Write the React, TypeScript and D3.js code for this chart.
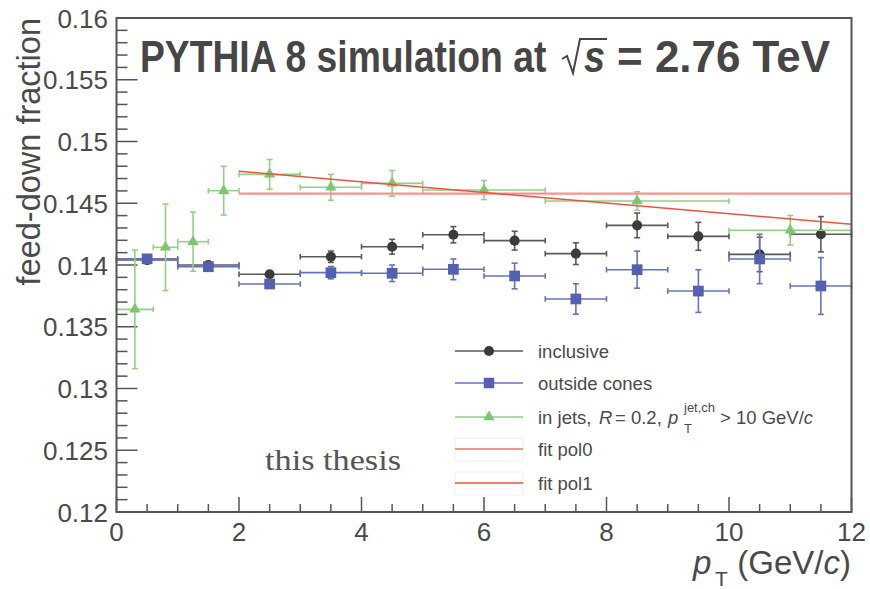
import React from "react";
import * as d3 from "d3";

const W = 870;
const H = 589;

const X_DOMAIN: [number, number] = [0, 12];
const Y_DOMAIN: [number, number] = [0.12, 0.16];
const xTickLabels = ["0", "2", "4", "6", "8", "10", "12"];
const yTickLabels = ["0.12", "0.125", "0.13", "0.135", "0.14", "0.145", "0.15", "0.155", "0.16"];

// inclusive
const incX = [0.5, 1.5, 2.5, 3.5, 4.5, 5.5, 6.5, 7.5, 8.5, 9.5, 10.5, 11.5];
const incXErr = [0.5, 0.5, 0.5, 0.5, 0.5, 0.5, 0.5, 0.5, 0.5, 0.5, 0.5, 0.5];
const incY = [0.1404, 0.14, 0.13925, 0.14067, 0.14148, 0.14245, 0.14197, 0.14092, 0.14321, 0.14232, 0.14086, 0.14249];
const incYErr = [0.0001, 0.0002, 0.0002, 0.00046, 0.0006, 0.00066, 0.00076, 0.00088, 0.001, 0.00113, 0.0014, 0.00143];

// outside cones
const outX = [0.5, 1.5, 2.5, 3.5, 4.5, 5.5, 6.5, 7.5, 8.5, 9.5, 10.5, 11.5];
const outXErr = [0.5, 0.5, 0.5, 0.5, 0.5, 0.5, 0.5, 0.5, 0.5, 0.5, 0.5, 0.5];
const outY = [0.1405, 0.13986, 0.13846, 0.13938, 0.13933, 0.13965, 0.13911, 0.13725, 0.13962, 0.13789, 0.14049, 0.1383];
const outYErr = [0.0001, 0.0001, 0.0002, 0.0005, 0.00067, 0.00084, 0.00104, 0.00123, 0.0015, 0.00173, 0.002, 0.0023];

// in jets
const jetX = [0.3, 0.8, 1.25, 1.75, 2.5, 3.5, 4.5, 6, 8.5, 11];
const jetXErr = [0.3, 0.2, 0.25, 0.25, 0.5, 0.5, 0.5, 1, 1.5, 1];
const jetY = [0.13641, 0.14143, 0.14189, 0.14602, 0.14734, 0.14629, 0.14661, 0.14607, 0.14518, 0.14281];
const jetYErr = [0.0048, 0.0035, 0.0024, 0.00197, 0.0012, 0.00105, 0.00104, 0.00077, 0.00075, 0.0012];

// fits
const fitRange = [2, 12];
const pol0Params = [0.14578];
const pol1Params = [0.14845, -0.00043];

const FONT = "'Liberation Sans', Arial, Helvetica, sans-serif";
const TEXT = "#4a4a4a";
const AXIS = "#555555";

const L = 116.5, R = 851.5, T = 18, B = 512;

const x = d3.scaleLinear().domain(X_DOMAIN).range([L, R]);
const y = d3.scaleLinear().domain(Y_DOMAIN).range([B, T]);

type SeriesProps = {
  xs: number[]; xe: number[]; ys: number[]; ye: number[];
  bar: string; fill: string; sym: d3.SymbolType; size: number; bw: number;
};

function Series({ xs, xe, ys, ye, bar, fill, sym, size, bw }: SeriesProps) {
  const path = d3.symbol().type(sym).size(size)() as string;
  return (
    <g>
      {xs.map((xv, i) => {
        const cx = x(xv), cy = y(ys[i]);
        const x0 = x(xv - xe[i]), x1 = x(xv + xe[i]);
        const y0 = y(ys[i] - ye[i]), y1 = y(ys[i] + ye[i]);
        return (
          <g key={"b" + i} stroke={bar} strokeWidth={bw} fill="none">
            <line x1={x0} x2={x1} y1={cy} y2={cy} />
            <line x1={x0} x2={x0} y1={cy - 2.8} y2={cy + 2.8} />
            <line x1={x1} x2={x1} y1={cy - 2.8} y2={cy + 2.8} />
            <line x1={cx} x2={cx} y1={y0} y2={y1} />
            <line x1={cx - 3} x2={cx + 3} y1={y0} y2={y0} />
            <line x1={cx - 3} x2={cx + 3} y1={y1} y2={y1} />
          </g>
        );
      })}
      {xs.map((xv, i) => (
        <path key={"m" + i} d={path} transform={`translate(${x(xv)},${y(ys[i])})`} fill={fill} />
      ))}
    </g>
  );
}

const INC_FILL = "#3b3b3b", INC_BAR = "#5a5a5a";
const OUT_FILL = "#5361b0", OUT_BAR = "#6573bf";
const JET_FILL = "#7ec66b", JET_BAR = "#92d183";
const POL0 = "#f4958b", POL1 = "#e7553f";

export default function App() {
  const xMajor = x.ticks(6);
  const xMinor = d3.range(0, 12.0001, 0.5);
  const yMajor = d3.range(0, 9).map((i) => 0.12 + i * 0.005);
  const yMinor = d3.range(0, 41).map((i) => 0.12 + i * 0.001);

  const pol0 = d3.line<number>().x((v) => x(v)).y(() => y(pol0Params[0]));
  const pol1 = d3.line<number>().x((v) => x(v)).y((v) => y(pol1Params[0] + pol1Params[1] * v));

  const symC = d3.symbol().type(d3.symbolCircle).size(80)() as string;
  const symS = d3.symbol().type(d3.symbolSquare).size(110)() as string;
  const symT = d3.symbol().type(d3.symbolTriangle).size(55)() as string;

  const legY = [351, 383, 417, 449, 483];
  const lx0 = 455, lx1 = 523, lmx = 489, ltx = 538;
  const lfs = 18.5;

  return (
    <svg width={W} height={H} style={{ display: "block", position: "absolute", left: 0, top: 0 }} fontFamily={FONT}>
      <rect x={0} y={0} width={W} height={H} fill="#ffffff" />

      {/* ticks */}
      <g stroke={AXIS} strokeWidth={1.5}>
        {xMinor.map((v, i) => {
          const major = Math.abs(v / 2 - Math.round(v / 2)) < 1e-6;
          return <line key={"xt" + i} x1={x(v)} x2={x(v)} y1={B} y2={B - (major ? 15 : 8)} />;
        })}
        {yMinor.map((v, i) => {
          const major = i % 5 === 0;
          return <line key={"yt" + i} x1={L} x2={L + (major ? 21 : 11)} y1={y(v)} y2={y(v)} />;
        })}
      </g>

      {/* tick labels */}
      <g fill={TEXT} fontSize={26}>
        {xMajor.map((v, i) => (
          <text key={"xl" + i} x={x(v)} y={541} textAnchor="middle">{xTickLabels[i]}</text>
        ))}
        {yMajor.map((v, i) => (
          <text key={"yl" + i} x={108} y={y(v) + 9.5} textAnchor="end">{yTickLabels[i]}</text>
        ))}
      </g>

      {/* axis titles */}
      <text transform="translate(40,18) rotate(-90)" textAnchor="end" fontSize={32.5} fill={TEXT}>feed-down fraction</text>
      <text x={693} y={574} fontSize={33} fill={TEXT} fontStyle="italic">p</text>
      <text x={715} y={586} fontSize={21} fill={TEXT}>T</text>
      <text x={851} y={574} textAnchor="end" fontSize={33} fill={TEXT}>
        <tspan>(GeV/</tspan>
        <tspan fontStyle="italic">c</tspan>
        <tspan>)</tspan>
      </text>

      {/* data */}
      <Series xs={incX} xe={incXErr} ys={incY} ye={incYErr} bar={INC_BAR} fill={INC_FILL} sym={d3.symbolCircle} size={80} bw={1.6} />
      <Series xs={outX} xe={outXErr} ys={outY} ye={outYErr} bar={OUT_BAR} fill={OUT_FILL} sym={d3.symbolSquare} size={115} bw={1.6} />
      <Series xs={jetX} xe={jetXErr} ys={jetY} ye={jetYErr} bar={JET_BAR} fill={JET_FILL} sym={d3.symbolTriangle} size={55} bw={1.6} />

      {/* fits */}
      <path d={pol0(fitRange) as string} stroke={POL0} strokeWidth={2.2} fill="none" />
      <path d={pol1(fitRange) as string} stroke={POL1} strokeWidth={1.5} fill="none" />

      {/* frame */}
      <rect x={L} y={T} width={R - L} height={B - T} fill="none" stroke={AXIS} strokeWidth={2} />

      {/* title */}
      <g fill="#464646" fontWeight="bold" fontSize={45}>
        <text transform="translate(140,72) scale(0.828,1)">PYTHIA 8 simulation at</text>
        <path d="M562,59 L567,56 L573,73 L580,39 L607,39" stroke="#464646" strokeWidth={2} fill="none" />
        <text transform="translate(584,72) scale(0.84,1)" fontStyle="italic">s</text>
        <text transform="translate(617,72) scale(0.977,1)">= 2.76 TeV</text>
      </g>

      {/* watermark */}
      <text x={265} y={470} fontFamily="'Liberation Serif', 'Times New Roman', serif" fontSize={29} fill="#555" textLength={136} lengthAdjust="spacingAndGlyphs">this thesis</text>

      {/* legend */}
      <g>
        <line x1={lx0} x2={lx1} y1={legY[0]} y2={legY[0]} stroke={INC_BAR} strokeWidth={1.5} />
        <path d={symC} transform={`translate(${lmx},${legY[0]})`} fill={INC_FILL} />
        <line x1={lx0} x2={lx1} y1={legY[1]} y2={legY[1]} stroke={OUT_BAR} strokeWidth={1.5} />
        <path d={symS} transform={`translate(${lmx},${legY[1]})`} fill={OUT_FILL} />
        <line x1={lx0} x2={lx1} y1={legY[2]} y2={legY[2]} stroke={JET_BAR} strokeWidth={1.5} />
        <path d={symT} transform={`translate(${lmx},${legY[2]})`} fill={JET_FILL} />
        <rect x={lx0} y={legY[3] - 11} width={lx1 - lx0} height={23} fill="none" stroke="#eeeeee" strokeWidth={1} />
        <line x1={lx0} x2={lx1} y1={legY[3]} y2={legY[3]} stroke={POL0} strokeWidth={2} />
        <rect x={lx0} y={legY[4] - 11} width={lx1 - lx0} height={23} fill="none" stroke="#eeeeee" strokeWidth={1} />
        <line x1={lx0} x2={lx1} y1={legY[4]} y2={legY[4]} stroke={POL1} strokeWidth={1.5} />
      </g>
      <g fill={TEXT} fontSize={lfs}>
        <text x={ltx} y={legY[0] + 6.5}>inclusive</text>
        <text x={ltx} y={legY[1] + 6.5}>outside cones</text>
        <text x={ltx} y={legY[2] + 6.5}>in jets,</text>
        <text x={599} y={legY[2] + 6.5} fontStyle="italic">R</text>
        <text x={615} y={legY[2] + 6.5}>= 0.2,</text>
        <text x={668} y={legY[2] + 6.5} fontStyle="italic">p</text>
        <text x={684} y={legY[2] - 5} fontSize={13}>jet,ch</text>
        <text x={684} y={legY[2] + 16} fontSize={13}>T</text>
        <text x={720} y={legY[2] + 6.5}>
          <tspan>&gt; 10 GeV/</tspan>
          <tspan fontStyle="italic">c</tspan>
        </text>
        <text x={ltx} y={legY[3] + 6.5}>fit pol0</text>
        <text x={ltx} y={legY[4] + 6.5}>fit pol1</text>
      </g>
    </svg>
  );
}
